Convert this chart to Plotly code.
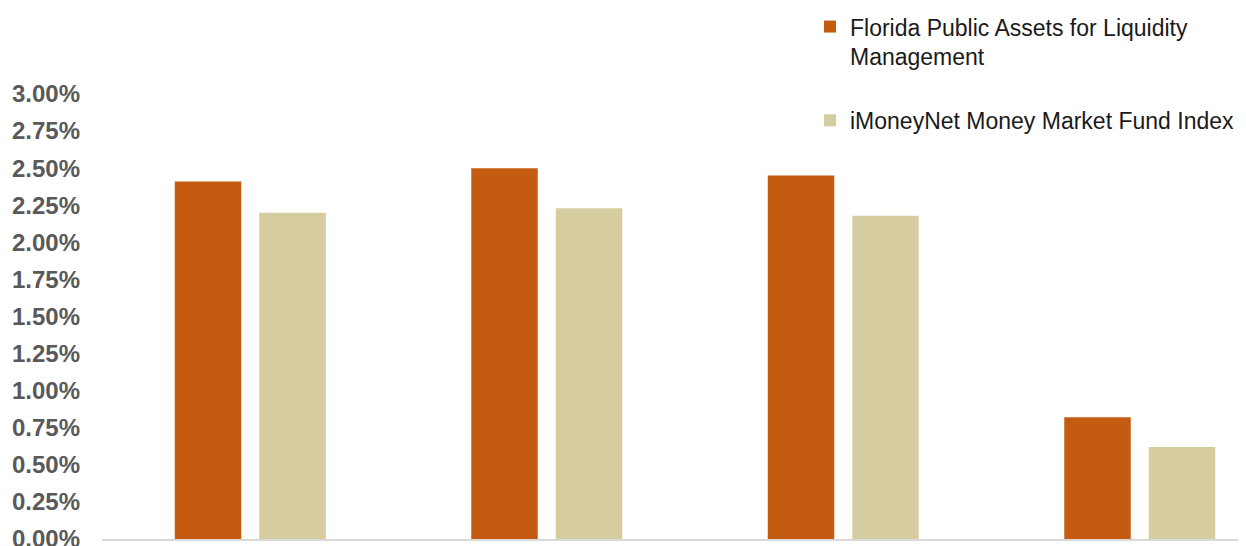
import plotly.graph_objects as go

categories = ["Period 1", "Period 2", "Period 3", "Period 4"]
series_names = ["Florida Public Assets for Liquidity<br>Management",
                "iMoneyNet Money Market Fund Index"]
flpalm = [2.41, 2.50, 2.45, 0.82]
imoneynet = [2.20, 2.23, 2.18, 0.62]
tick_vals = [0, 0.25, 0.5, 0.75, 1.0, 1.25, 1.5, 1.75, 2.0, 2.25, 2.5, 2.75, 3.0]
tick_text = ["%.2f%%" % v for v in tick_vals]

fig = go.Figure()
fig.add_trace(go.Bar(x=categories, y=flpalm, name=series_names[0],
                     marker=dict(color="#C55A11", line=dict(width=0)),
                     legendgroup="a"))
fig.add_trace(go.Bar(x=categories, y=imoneynet, name=series_names[1],
                     marker=dict(color="#D5CCA0", line=dict(width=0)),
                     legendgroup="b"))

# page has an 8px body offset; figure sized to fit the window
W, H = 1238, 538
L, R, T, B = 94, 0, 86, 6.5
plot_w = W - L - R
plot_h = H - T - B
cat_px = 296.5
span = plot_w / cat_px

fig.update_layout(
    width=W, height=H,
    margin=dict(l=L, r=R, t=T, b=B, pad=0, autoexpand=False),
    paper_bgcolor="white", plot_bgcolor="white",
    barmode="group", bargap=0.43, bargroupgap=0.213,
    font=dict(family="Liberation Sans, Arial, sans-serif"),
    showlegend=True,
    legend=dict(
        x=(802 - L) / plot_w, xanchor="left",
        y=1 + (T + 3) / plot_h, yanchor="top",
        font=dict(size=23, color="#1a1a1a", family="Liberation Sans, Arial, sans-serif"),
        valign="top", traceorder="grouped", tracegroupgap=31,
        bgcolor="rgba(0,0,0,0)", itemwidth=30,
    ),
    xaxis=dict(
        type="category", range=[-0.5, -0.5 + span], automargin=False,
        showticklabels=False, ticks="", showgrid=False,
        showline=True, linecolor="#D9D9D9", linewidth=2,
    ),
    yaxis=dict(
        range=[0, 3], tickvals=tick_vals, ticktext=tick_text, automargin=False,
        showgrid=False, zeroline=False, showline=False,
        ticks="", ticklabelstandoff=21, ticklabeloverflow="allow",
        tickfont=dict(size=24, color="#595959", family="Liberation Sans, Arial, sans-serif", weight="bold"),
    ),
)

fig.write_html("out.html")
